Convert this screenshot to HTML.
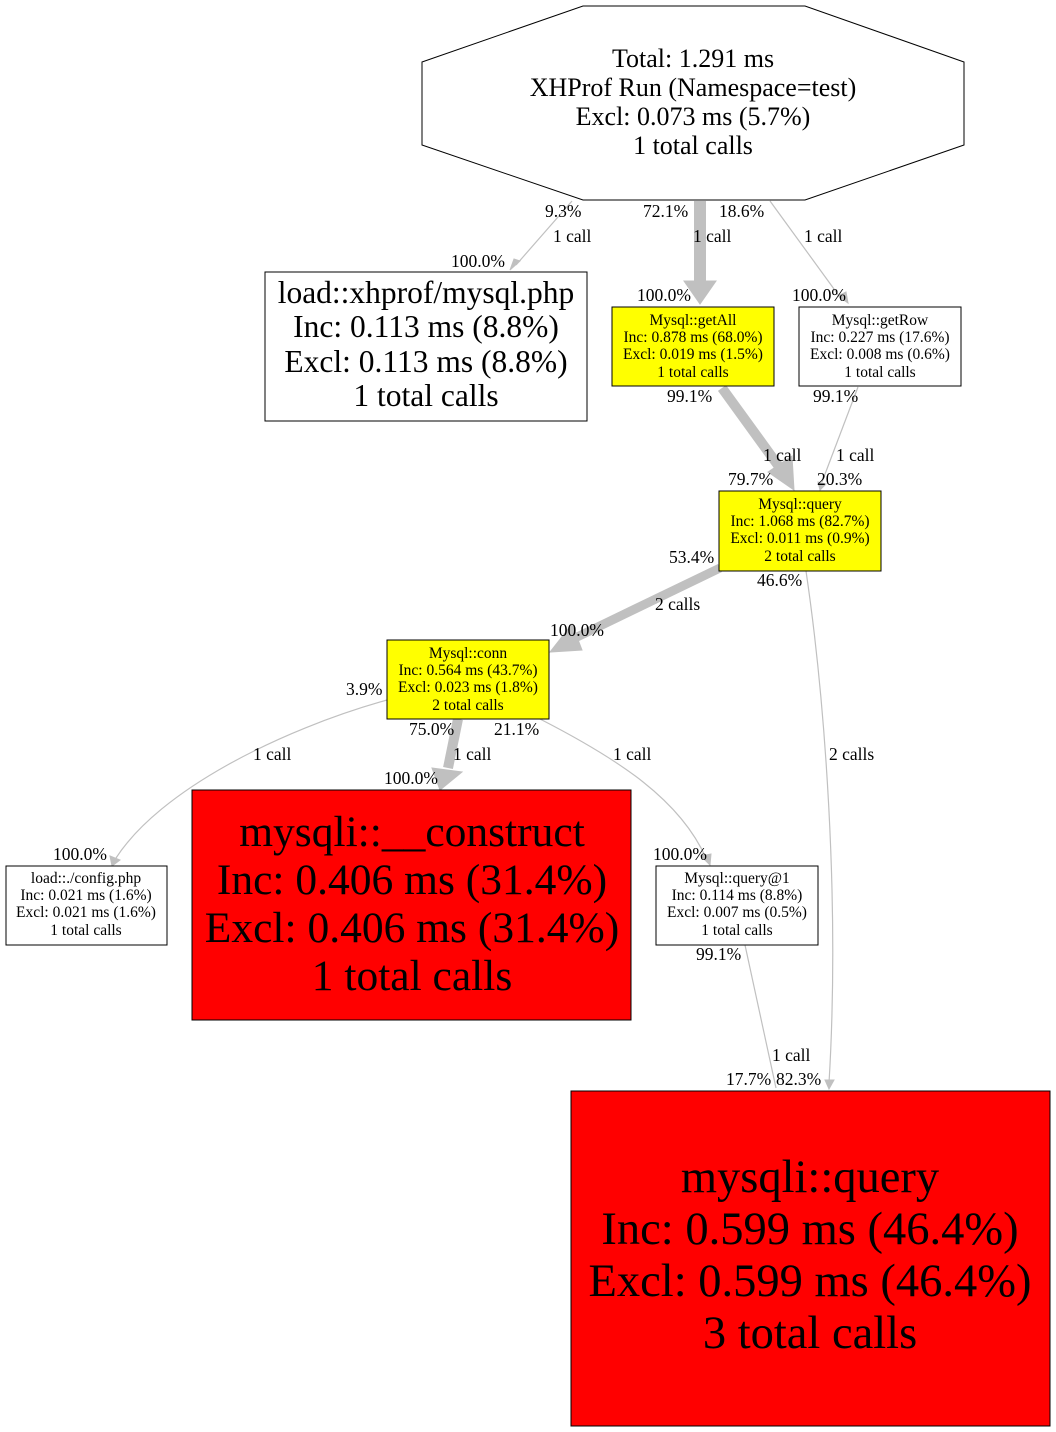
<!DOCTYPE html>
<html><head><meta charset="utf-8"><style>
html,body{margin:0;padding:0;background:#fff;}
svg{display:block;}
text{font-family:"Liberation Serif",serif;fill:#000;}
</style></head><body>
<svg width="1056" height="1432" viewBox="0 0 1056 1432" xmlns="http://www.w3.org/2000/svg">
<rect width="1056" height="1432" fill="#fff"/>
<g stroke="#c0c0c0" fill="none">
<path d="M572,201 L516,265" stroke-width="1.2"/>
<path d="M700,201 L700,282" stroke-width="12"/>
<path d="M770,201 L842,300" stroke-width="1.2"/>
<path d="M722,388 L780,468" stroke-width="10"/>
<path d="M858,387 L822,482" stroke-width="1.2"/>
<path d="M720,568 L575,638" stroke-width="9"/>
<path d="M806,571 C825,700 840,900 829,1083" stroke-width="1.2"/>
<path d="M387,700 C280,730 160,790 116,858" stroke-width="1.2"/>
<path d="M458,719 L448,768" stroke-width="10"/>
<path d="M540,719 C620,760 680,800 706,858" stroke-width="1.2"/>
<path d="M745,945 L776,1088" stroke-width="1.2"/>
</g>
<g fill="#c0c0c0" stroke="#c0c0c0">
<polygon points="510,270 520,261 514,259"/>
<polygon points="684,281 716,281 700,304"/>
<polygon points="768,472 792,456 794,490"/>
<polygon points="572,624 582,650 550,652"/>
<polygon points="432,768 462,772 440,790"/>
<polygon points="838,296 848,303 846,292"/>
<polygon points="818,482 826,484 820,490"/>
<polygon points="825,1080 834,1080 829,1089"/>
<polygon points="110,856 120,860 112,866"/>
<polygon points="701,856 711,854 710,865"/>
</g>
<polygon points="583,6 805,6 964,62 964,145 805,200 583,200 422,145 422,62" fill="#fff" stroke="#000"/>
<g font-size="26" text-anchor="middle">
<text x="693" y="67">Total: 1.291 ms</text>
<text x="693" y="96">XHProf Run (Namespace=test)</text>
<text x="693" y="125">Excl: 0.073 ms (5.7%)</text>
<text x="693" y="154">1 total calls</text>
</g>
<rect x="265" y="272" width="322" height="149" fill="#fff" stroke="#000"/>
<g font-size="31.5" text-anchor="middle">
<text x="426" y="303">load::xhprof/mysql.php</text>
<text x="426" y="337">Inc: 0.113 ms (8.8%)</text>
<text x="426" y="372">Excl: 0.113 ms (8.8%)</text>
<text x="426" y="406">1 total calls</text>
</g>
<g font-size="15.5" text-anchor="middle">
<rect x="612" y="307" width="162" height="79" fill="#ff0" stroke="#000"/>
<text x="693" y="325">Mysql::getAll</text><text x="693" y="342">Inc: 0.878 ms (68.0%)</text><text x="693" y="359">Excl: 0.019 ms (1.5%)</text><text x="693" y="377">1 total calls</text>
<rect x="799" y="307" width="162" height="79" fill="#fff" stroke="#000"/>
<text x="880" y="325">Mysql::getRow</text><text x="880" y="342">Inc: 0.227 ms (17.6%)</text><text x="880" y="359">Excl: 0.008 ms (0.6%)</text><text x="880" y="377">1 total calls</text>
<rect x="719" y="491" width="162" height="80" fill="#ff0" stroke="#000"/>
<text x="800" y="509">Mysql::query</text><text x="800" y="526">Inc: 1.068 ms (82.7%)</text><text x="800" y="543">Excl: 0.011 ms (0.9%)</text><text x="800" y="561">2 total calls</text>
<rect x="387" y="640" width="162" height="79" fill="#ff0" stroke="#000"/>
<text x="468" y="658">Mysql::conn</text><text x="468" y="675">Inc: 0.564 ms (43.7%)</text><text x="468" y="692">Excl: 0.023 ms (1.8%)</text><text x="468" y="710">2 total calls</text>
<rect x="6" y="866" width="161" height="79" fill="#fff" stroke="#000"/>
<text x="86" y="883">load::./config.php</text><text x="86" y="900">Inc: 0.021 ms (1.6%)</text><text x="86" y="917">Excl: 0.021 ms (1.6%)</text><text x="86" y="935">1 total calls</text>
<rect x="656" y="866" width="162" height="79" fill="#fff" stroke="#000"/>
<text x="737" y="883">Mysql::query@1</text><text x="737" y="900">Inc: 0.114 ms (8.8%)</text><text x="737" y="917">Excl: 0.007 ms (0.5%)</text><text x="737" y="935">1 total calls</text>
</g>
<rect x="192" y="790" width="439" height="230" fill="#f00" stroke="#000"/>
<g font-size="43.5" text-anchor="middle">
<text x="412" y="846">mysqli::__construct</text>
<text x="412" y="894">Inc: 0.406 ms (31.4%)</text>
<text x="412" y="942">Excl: 0.406 ms (31.4%)</text>
<text x="412" y="990">1 total calls</text>
</g>
<rect x="571" y="1091" width="479" height="335" fill="#f00" stroke="#000"/>
<g font-size="46.5" text-anchor="middle">
<text x="810" y="1192">mysqli::query</text>
<text x="810" y="1244">Inc: 0.599 ms (46.4%)</text>
<text x="810" y="1296">Excl: 0.599 ms (46.4%)</text>
<text x="810" y="1348">3 total calls</text>
</g>
<g font-size="17.5">
<text x="545" y="217">9.3%</text><text x="553" y="242">1 call</text><text x="451" y="267">100.0%</text>
<text x="643" y="217">72.1%</text><text x="693" y="242">1 call</text><text x="637" y="301">100.0%</text>
<text x="719" y="217">18.6%</text><text x="804" y="242">1 call</text><text x="792" y="301">100.0%</text>
<text x="667" y="402">99.1%</text><text x="763" y="461">1 call</text><text x="728" y="485">79.7%</text>
<text x="813" y="402">99.1%</text><text x="836" y="461">1 call</text><text x="817" y="485">20.3%</text>
<text x="669" y="563">53.4%</text><text x="655" y="610">2 calls</text><text x="550" y="636">100.0%</text>
<text x="757" y="586">46.6%</text><text x="829" y="760">2 calls</text>
<text x="346" y="695">3.9%</text><text x="253" y="760">1 call</text><text x="53" y="860">100.0%</text>
<text x="409" y="735">75.0%</text><text x="453" y="760">1 call</text><text x="384" y="784">100.0%</text>
<text x="494" y="735">21.1%</text><text x="613" y="760">1 call</text><text x="653" y="860">100.0%</text>
<text x="696" y="960">99.1%</text><text x="772" y="1061">1 call</text>
<text x="726" y="1085">17.7%</text><text x="776" y="1085">82.3%</text>
</g>
</svg>
</body></html>
